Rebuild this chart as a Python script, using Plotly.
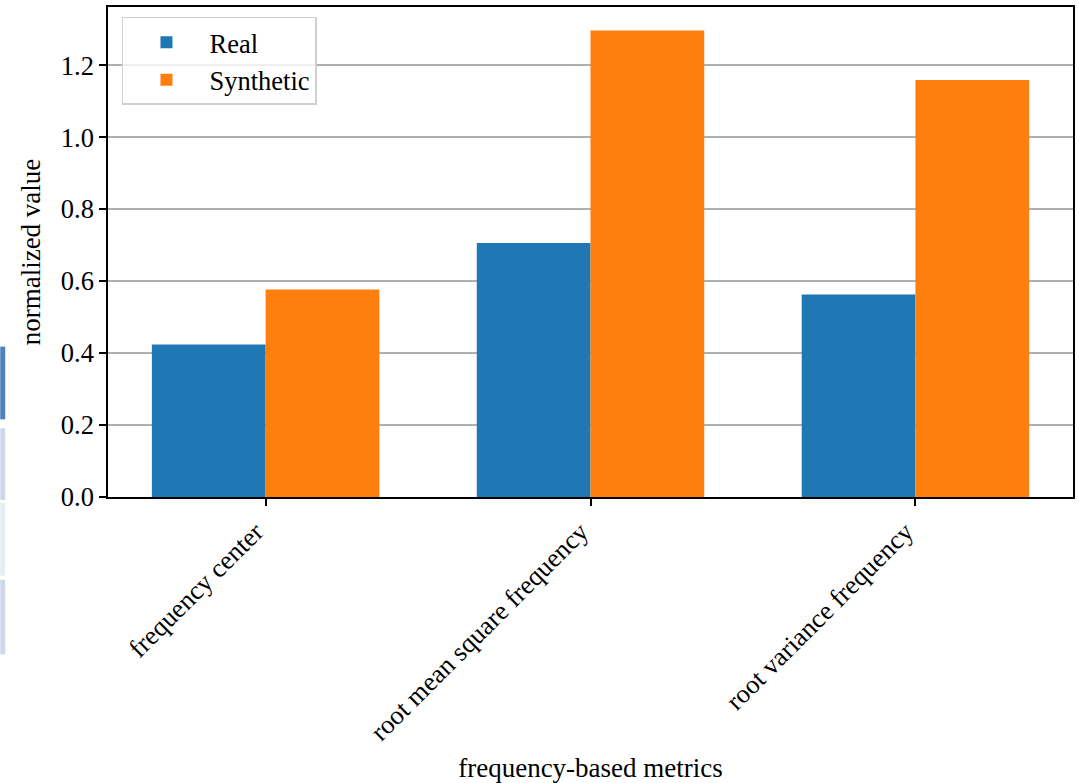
import plotly.graph_objects as go

categories = ["frequency center", "root mean square frequency", "root variance frequency"]
real_values = [0.424, 0.706, 0.563]
synthetic_values = [0.577, 1.297, 1.159]
y_ticks = [0.0, 0.2, 0.4, 0.6, 0.8, 1.0, 1.2]
y_tick_labels = ["0.0", "0.2", "0.4", "0.6", "0.8", "1.0", "1.2"]

FONT = "Liberation Serif, Times New Roman, serif"
FS = 26.5

fig = go.Figure()
fig.add_trace(go.Bar(x=categories, y=real_values, name="Real",
                     marker=dict(color="#1f77b4", line=dict(width=0))))
fig.add_trace(go.Bar(x=categories, y=synthetic_values, name="Synthetic",
                     marker=dict(color="#ff7f0e", line=dict(width=0))))

W, H = 1079, 783
L, R, T, B = 108, 4, 7, 284
pw, ph = W - L - R, H - T - B

def px_x(p):
    return (p - L) / pw

def px_y(p):
    return (H - B - p) / ph

# cropped-screenshot artefact at the left edge
strip = [(348, 421, "#4f81bd"), (430, 502, "#cfd8ea"), (505, 578, "#e8ecf5"), (582, 657, "#cfd8ea")]
shapes = []
for y0, y1, c in strip:
    shapes.append(dict(type="rect", xref="paper", yref="paper",
                       x0=px_x(0), x1=px_x(5), y0=px_y(y1), y1=px_y(y0),
                       fillcolor=c, line=dict(width=0), layer="above"))

fig.update_layout(
    width=W, height=H,
    margin=dict(l=L, r=R, t=T, b=B, pad=0),
    paper_bgcolor="white", plot_bgcolor="white",
    font=dict(family=FONT, size=FS, color="black"),
    barmode="group", bargap=0.3, bargroupgap=0.0,
    showlegend=True,
    legend=dict(x=px_x(122), y=px_y(17), xanchor="left", yanchor="top",
                bgcolor="rgba(255,255,255,0.8)", bordercolor="#d0d0d0", borderwidth=1.5,
                font=dict(family=FONT, size=FS), tracegroupgap=6,
                itemwidth=76),
    xaxis=dict(
        type="category", range=[-0.485, 2.485],
        showline=True, linecolor="black", linewidth=1.5, mirror=True,
        ticks="outside", ticklen=7, tickwidth=1.5, tickcolor="black",
        tickangle=-45, showgrid=False, ticklabelshift=-10,
        title=dict(text="frequency-based metrics", font=dict(family=FONT, size=27), standoff=14),
        tickfont=dict(family=FONT, size=FS),
    ),
    yaxis=dict(
        range=[0, 1.362],
        tickvals=y_ticks, ticktext=y_tick_labels,
        showline=True, linecolor="black", linewidth=1.5, mirror=True,
        ticks="outside", ticklen=7, tickwidth=1.5, tickcolor="black",
        showgrid=True, gridcolor="#b0b0b0", gridwidth=1.5,
        zeroline=False, layer="above traces",
        title=dict(text="normalized value", font=dict(family=FONT, size=27), standoff=12),
        tickfont=dict(family=FONT, size=FS),
    ),
    shapes=shapes,
)

fig.write_html("out.html", config={"displayModeBar": False},
               post_script="document.body.style.margin='0';document.body.style.overflow='hidden';")
